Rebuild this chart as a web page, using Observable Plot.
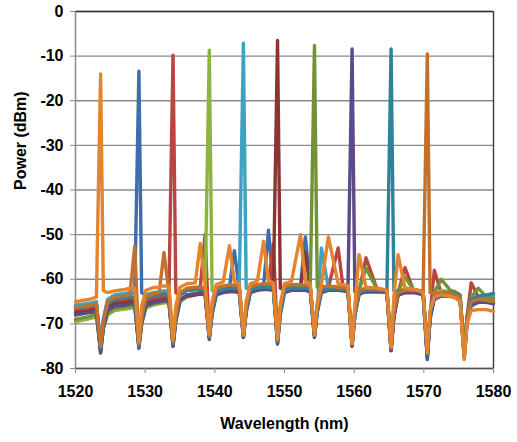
<!DOCTYPE html>
<html>
<head>
<meta charset="utf-8">
<script src="https://cdn.jsdelivr.net/npm/d3@7"></script>
<script src="https://cdn.jsdelivr.net/npm/@observablehq/plot@0.6"></script>
<style>
  html, body { margin: 0; padding: 0; background: #fff; }
  #chart { width: 517px; height: 442px; }
</style>
</head>
<body>
<div id="chart"></div>
<script>
// Wavelength sample points (nm), shared by all traces
const wavelength = [1520,
  1521.6,1522.3,1523.0,1523.6,1524.0,1524.6,1525.6,
  1527.1,1527.8,1528.5,1529.1,1529.5,1530.1,1531.1,
  1532.0,1532.7,1533.4,1534.0,1534.4,1535.0,1536.0,
  1537.2,1537.9,1538.6,1539.2,1539.6,1540.2,1541.2,
  1542.1,1542.8,1543.5,1544.1,1544.5,1545.1,1546.1,
  1547.0,1547.7,1548.4,1549.0,1549.4,1550.0,1551.0,
  1552.3,1553.0,1553.7,1554.3,1554.7,1555.3,1556.3,
  1557.7,1558.4,1559.1,1559.7,1560.1,1560.7,1561.7,
  1563.3,1564.0,1564.7,1565.3,1565.7,1566.3,1567.3,
  1568.5,1569.2,1569.9,1570.5,1570.9,1571.5,1572.5,
  1573.8,1574.5,1575.2,1575.8,1576.2,1576.8,1577.8,
  1579,1580];

// Power (dBm) of each channel trace at those wavelengths
const ch1523 = [-65.0,
  -64.6,-64.4,-64.0,-14.0,-62.5,-63.0,-62.6,
  -62.3,-62.0,-62.0,-74.0,-66.0,-62.5,-61.9,
  -61.7,-61.5,-61.5,-73.5,-66.0,-61.8,-61.0,
  -60.8,-52.0,-61.0,-72.5,-65.0,-61.2,-60.6,
  -52.5,-60.5,-61.0,-72.5,-65.0,-61.0,-60.4,
  -51.5,-60.3,-60.8,-73.5,-65.5,-61.0,-60.5,
  -50.0,-60.5,-61.0,-72.5,-65.5,-61.2,-50.5,
  -61.0,-61.2,-61.5,-74.5,-66.0,-54.5,-61.8,
  -62.0,-62.2,-62.5,-75.0,-64.0,-54.5,-62.0,
  -62.2,-62.5,-63.0,-76.5,-67.0,-64.0,-63.5,
  -63.8,-64.2,-65.0,-78.0,-70.0,-67.0,-66.8,
  -66.8,-67.2];
const ch1529 = [-66.0,
  -65.8,-65.6,-65.5,-75.5,-69.0,-65.0,-64.0,
  -63.6,-63.4,-63.0,-13.4,-63.0,-63.5,-63.2,
  -63.0,-62.8,-63.0,-74.5,-68.0,-63.5,-62.5,
  -62.2,-62.0,-62.3,-73.0,-67.0,-62.8,-62.0,
  -61.8,-53.6,-62.0,-73.0,-66.5,-62.0,-61.6,
  -61.5,-49.0,-61.8,-74.5,-67.0,-62.0,-61.6,
  -61.5,-50.5,-62.0,-73.0,-67.0,-62.2,-61.8,
  -62.0,-62.0,-62.3,-75.0,-68.0,-63.5,-62.5,
  -62.5,-62.5,-63.0,-76.0,-68.0,-63.5,-62.8,
  -62.8,-63.0,-63.2,-78.0,-68.5,-64.5,-63.8,
  -63.8,-64.0,-64.5,-76.5,-69.0,-66.0,-65.2,
  -65.0,-65.0];
const ch1534 = [-67.0,
  -66.8,-66.5,-66.3,-76.0,-70.0,-66.0,-65.0,
  -64.8,-64.6,-64.5,-75.0,-69.0,-65.0,-64.5,
  -64.2,-64.0,-63.8,-9.8,-63.0,-63.5,-62.5,
  -62.3,-62.0,-50.0,-73.0,-67.0,-62.5,-61.8,
  -61.6,-61.6,-61.8,-72.5,-66.5,-62.0,-61.3,
  -61.2,-61.2,-52.0,-74.0,-67.0,-61.8,-61.5,
  -61.5,-61.8,-62.0,-72.5,-66.5,-62.0,-61.8,
  -53.0,-61.8,-62.0,-74.5,-67.5,-62.8,-55.2,
  -62.3,-62.3,-62.5,-75.5,-67.5,-63.0,-57.4,
  -62.5,-62.6,-62.8,-77.0,-68.0,-58.0,-63.2,
  -63.2,-63.5,-64.0,-77.0,-68.5,-60.8,-64.0,
  -64.0,-64.2];
const ch1539 = [-69.5,
  -69.0,-68.7,-68.5,-75.5,-71.0,-68.0,-67.0,
  -66.7,-66.5,-66.3,-74.5,-70.0,-66.5,-65.8,
  -65.5,-65.3,-65.3,-74.0,-69.0,-65.0,-64.0,
  -63.5,-63.3,-63.3,-8.7,-62.5,-63.0,-62.2,
  -62.0,-62.0,-62.2,-72.0,-66.5,-62.0,-61.5,
  -61.2,-61.3,-61.5,-73.0,-67.0,-62.0,-61.5,
  -61.5,-61.8,-62.0,-71.5,-66.0,-62.0,-61.8,
  -62.0,-62.2,-62.5,-73.5,-67.0,-62.5,-62.3,
  -62.5,-62.5,-62.8,-75.0,-68.0,-63.0,-62.0,
  -62.3,-62.5,-62.8,-76.5,-68.0,-63.5,-62.5,
  -62.8,-63.2,-63.8,-77.0,-69.0,-65.0,-64.5,
  -64.5,-64.8];
const ch1544 = [-65.8,
  -65.5,-65.3,-65.0,-75.0,-69.0,-64.5,-63.5,
  -63.2,-63.0,-62.8,-74.5,-68.5,-63.5,-63.0,
  -62.8,-62.6,-62.6,-74.0,-68.0,-63.0,-62.3,
  -62.0,-62.0,-62.2,-72.5,-67.0,-62.5,-62.0,
  -62.0,-62.0,-62.0,-7.1,-62.0,-62.3,-62.0,
  -61.8,-61.8,-62.0,-73.5,-67.0,-62.3,-62.0,
  -62.0,-62.0,-62.2,-72.0,-66.5,-53.0,-62.0,
  -62.2,-62.3,-62.5,-74.5,-68.0,-63.0,-62.5,
  -62.5,-62.6,-62.8,-75.0,-68.0,-63.0,-62.5,
  -62.6,-62.8,-63.0,-77.0,-68.0,-63.5,-63.0,
  -63.0,-63.2,-63.8,-76.5,-69.0,-64.5,-64.0,
  -63.8,-63.5];
const ch1549 = [-67.5,
  -67.2,-67.0,-66.8,-76.5,-70.5,-66.5,-65.5,
  -65.3,-65.0,-65.0,-75.0,-69.5,-65.5,-65.0,
  -64.8,-64.6,-64.5,-75.0,-69.0,-64.5,-63.8,
  -63.5,-63.3,-63.5,-73.0,-67.5,-63.5,-62.8,
  -62.5,-62.5,-62.8,-73.0,-67.0,-62.8,-62.2,
  -62.0,-62.0,-62.0,-6.5,-62.0,-62.3,-62.0,
  -62.0,-54.0,-62.3,-72.5,-67.0,-62.5,-62.2,
  -62.3,-62.5,-62.8,-75.0,-68.0,-63.2,-62.8,
  -62.8,-62.8,-63.0,-76.0,-68.5,-63.5,-63.0,
  -63.0,-63.0,-63.2,-77.5,-68.5,-64.0,-63.5,
  -63.5,-63.8,-64.2,-77.5,-69.5,-65.5,-65.0,
  -65.0,-65.2];
const ch1554 = [-69.0,
  -68.5,-68.2,-68.0,-75.5,-71.0,-67.5,-66.5,
  -66.2,-66.0,-65.8,-75.0,-69.5,-66.0,-65.5,
  -65.2,-65.0,-65.0,-74.5,-69.0,-64.8,-63.5,
  -63.2,-63.0,-63.0,-73.0,-67.5,-63.0,-62.0,
  -61.8,-61.8,-62.0,-72.5,-66.5,-61.8,-61.3,
  -61.2,-61.2,-61.5,-73.0,-66.5,-61.8,-61.5,
  -61.5,-61.6,-61.8,-7.6,-61.8,-62.0,-61.6,
  -61.8,-62.0,-62.2,-74.0,-67.0,-62.5,-57.5,
  -62.3,-62.4,-62.6,-75.0,-67.5,-62.8,-59.5,
  -62.3,-62.5,-62.8,-76.5,-67.5,-63.0,-60.0,
  -62.5,-62.8,-63.5,-77.0,-68.5,-64.0,-62.0,
  -64.0,-64.3];
const ch1560 = [-68.0,
  -67.6,-67.4,-67.2,-76.5,-71.0,-67.0,-66.0,
  -65.8,-65.5,-65.5,-75.5,-70.0,-66.0,-65.3,
  -65.0,-64.8,-64.8,-75.0,-69.5,-64.8,-63.5,
  -63.3,-63.0,-63.2,-73.5,-68.0,-63.5,-63.0,
  -62.8,-62.8,-63.0,-73.0,-67.5,-63.0,-62.5,
  -62.3,-62.3,-62.5,-74.5,-68.0,-63.0,-62.5,
  -62.5,-62.5,-62.8,-73.0,-67.5,-63.0,-62.5,
  -62.5,-62.6,-62.8,-8.4,-62.8,-63.0,-62.8,
  -62.8,-62.8,-63.0,-76.0,-68.5,-63.5,-63.0,
  -63.0,-63.2,-63.5,-77.5,-69.0,-64.0,-63.5,
  -63.8,-64.0,-64.5,-77.5,-70.0,-65.5,-65.0,
  -65.2,-65.5];
const ch1565 = [-66.5,
  -66.2,-66.0,-65.8,-75.5,-70.0,-65.5,-64.5,
  -64.2,-64.0,-64.0,-75.0,-69.0,-64.5,-63.8,
  -63.5,-63.3,-63.3,-74.5,-68.5,-63.5,-62.5,
  -62.3,-62.2,-62.5,-73.0,-67.5,-62.8,-62.3,
  -62.0,-62.0,-62.2,-72.5,-67.0,-62.5,-62.0,
  -61.8,-61.8,-62.0,-74.0,-67.5,-62.5,-62.0,
  -62.0,-62.0,-62.2,-72.5,-67.0,-62.5,-62.2,
  -62.2,-62.3,-62.5,-74.5,-68.0,-63.0,-62.5,
  -62.5,-62.5,-62.6,-8.4,-62.5,-62.8,-62.5,
  -62.5,-62.6,-62.8,-77.0,-68.0,-63.5,-63.0,
  -63.0,-63.2,-63.6,-76.5,-68.5,-64.5,-63.8,
  -63.5,-63.2];
const ch1570 = [-66.3,
  -66.0,-65.8,-65.5,-75.0,-69.5,-65.0,-64.0,
  -63.8,-63.5,-52.6,-74.5,-68.5,-64.0,-63.3,
  -63.0,-54.0,-63.0,-74.0,-68.0,-63.0,-62.0,
  -61.8,-61.8,-62.0,-72.5,-66.5,-62.0,-61.5,
  -61.3,-61.3,-61.5,-72.5,-66.0,-61.6,-61.2,
  -61.0,-61.0,-61.3,-73.5,-66.5,-61.5,-61.2,
  -61.2,-61.3,-61.5,-72.0,-66.0,-61.8,-61.5,
  -61.8,-61.8,-62.0,-74.5,-67.0,-62.5,-62.0,
  -62.2,-62.3,-62.5,-75.5,-67.5,-63.0,-62.5,
  -62.5,-62.6,-62.8,-9.5,-63.0,-63.2,-63.0,
  -63.2,-63.5,-64.0,-77.0,-69.0,-65.0,-64.5,
  -64.8,-65.0];

const seriesNames = ["ch1529","ch1534","ch1539","ch1544","ch1549","ch1554","ch1560","ch1565","ch1570","ch1523"];
const seriesValues = [ch1529, ch1534, ch1539, ch1544, ch1549, ch1554, ch1560, ch1565, ch1570, ch1523];
const xTicks = [1520, 1530, 1540, 1550, 1560, 1570, 1580];
const yTicks = [0, -10, -20, -30, -40, -50, -60, -70, -80];

const colors = {
  ch1523: "#E3842F", ch1529: "#3E6DAD", ch1534: "#B8463F", ch1539: "#8DB442",
  ch1544: "#3FA2C0", ch1549: "#8C3431", ch1554: "#72923A", ch1560: "#5E4A88",
  ch1565: "#2F8299", ch1570: "#C2712C"
};

const rows = [];
seriesNames.forEach((name, i) => {
  seriesValues[i].forEach((v, j) => rows.push({wl: wavelength[j], p: v, s: name}));
});

const font = "'Liberation Sans', Arial, sans-serif";
const fmt = d => String(d);

const chart = Plot.plot({
  width: 517,
  height: 442,
  marginLeft: 75,
  marginRight: 24,
  marginTop: 11,
  marginBottom: 74,
  style: {fontFamily: font, fontSize: "16px", fontWeight: "bold", color: "#000", background: "#fff"},
  x: {domain: [1520, 1580], tickFormat: fmt},
  y: {domain: [-80, 0], tickFormat: fmt},
  marks: [
    Plot.gridY(yTicks, {stroke: "#8a8a8a", strokeOpacity: 1, strokeWidth: 1.3}),
    Plot.ruleY([0], {stroke: "#333", strokeWidth: 1.5}),
    Plot.ruleX([1580], {stroke: "#444", strokeWidth: 1.5}),
    Plot.ruleX([1520], {stroke: "#8a8a8a", strokeWidth: 1.5}),
    Plot.ruleY([-80], {stroke: "#555", strokeWidth: 1.5}),
    Plot.line(rows, {x: "wl", y: "p", z: "s", stroke: d => colors[d.s], strokeWidth: 3.4, strokeLinejoin: "round"}),
    Plot.axisY(yTicks, {tickSize: 5, tickPadding: 7, stroke: "#8a8a8a", label: null, fontSize: 16, fontWeight: "bold", tickFormat: fmt}),
    Plot.axisX(xTicks, {tickSize: 5, tickPadding: 12, stroke: "#8a8a8a", label: null, fontSize: 16, fontWeight: "bold", tickFormat: fmt}),
    Plot.text(["Wavelength (nm)"], {frameAnchor: "bottom", dy: 60, fontSize: 16, fontWeight: "bold", fill: "#000"}),
    Plot.text(["Power (dBm)"], {frameAnchor: "left", dx: -55, rotate: -90, fontSize: 16, fontWeight: "bold", fill: "#000"})
  ]
});
document.getElementById("chart").appendChild(chart);
</script>
</body>
</html>
